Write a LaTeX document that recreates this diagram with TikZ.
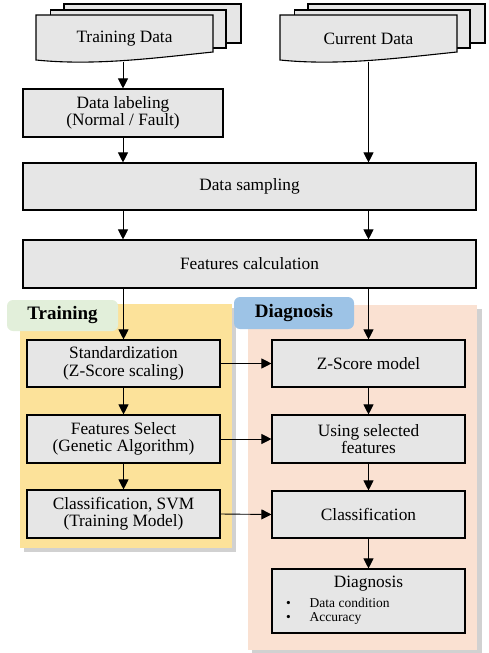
\documentclass[tikz,border=0pt]{standalone}
\usepackage{fontspec}
\setmainfont{Liberation Serif}
\usetikzlibrary{positioning,arrows.meta}
\tikzstyle{flowChart} = [x = 1pt, y = -1pt]
\definecolor{boxGray}{RGB}{230,230,230}
\definecolor{trainPanel}{RGB}{252,226,154}
\definecolor{diagPanel}{RGB}{250,225,210}
\definecolor{trainTagColor}{RGB}{226,239,218}
\definecolor{diagTagColor}{RGB}{157,195,230}
\tikzstyle{stepBox} = [draw, fill=boxGray, line width=1.1pt, align=center, inner sep=0pt, font=\fontsize{17.3}{17.5}\selectfont]
\tikzstyle{docPage} = [draw, fill=boxGray, line width=1.1pt]
\tikzstyle{flowArrow} = [line width=0.9pt, -{Triangle[length=10pt,width=10pt]}]
\tikzstyle{panelTag} = [rounded corners=6pt, inner sep=0pt, font=\bfseries\fontsize{19}{20}\selectfont]
\tikzstyle{panelShadow} = [fill=black, opacity=0.18]
\newcommand{\stepNode}[6]{\node [stepBox, minimum width=#4pt, minimum height=#5pt] (#1) at (#2,#3) {#6};}
\newcommand{\dataStack}[3]{
  \draw [docPage] ({#2-60.5},4) rectangle ({#2+116.5},43);
  \draw [docPage] ({#2-74},10) rectangle ({#2+101.5},48);
  \draw [docPage] ({#2-88.5},15) -- ({#2+88.5},15) -- ({#2+88.5},52)
    .. controls ({#2+30},58) and ({#2-30},66) .. ({#2-88.5},60) -- cycle;
  \node [font=\fontsize{17.3}{17.5}\selectfont, minimum width=177pt, minimum height=47pt, inner sep=0pt] (#1) at (#2,38.5) {#3};
}

\begin{document}
\begin{tikzpicture}[flowChart]
  \useasboundingbox (0,0) rectangle (488,653);

  % panels
  \fill [panelShadow] (24,308) rectangle (236,552);
  \fill [trainPanel] (20,304) rectangle (232,548);
  \fill [panelShadow] (252,309) rectangle (482,653);
  \fill [diagPanel] (248,305) rectangle (477,650);
  \node [panelTag, fill=trainTagColor, minimum width=111pt, minimum height=31pt] (trainTag) at (62.5,315.5) {Training};
  \node [panelTag, fill=diagTagColor, minimum width=120pt, minimum height=32pt] (diagTag) at (294,313) {Diagnosis};

  % inputs
  \dataStack{trainData}{124.5}{Training Data}
  \dataStack{curData}{368.5}{Current Data}

  \stepNode{labeling}{123}{113}{200}{48}{Data labeling\\(Normal / Fault)}
  \stepNode{sampling}{249.5}{186.5}{453}{47}{Data sampling}
  \stepNode{features}{249.5}{264}{453}{48}{Features calculation}

  % training side
  \stepNode{stand}{123.5}{363.5}{193}{47}{Standardization\\(Z-Score scaling)}
  \stepNode{featSel}{123.5}{439}{193}{48}{Features Select\\(Genetic Algorithm)}
  \stepNode{classSvm}{123.5}{514}{193}{48}{Classification, SVM\\(Training Model)}

  % diagnosis side
  \stepNode{zScore}{368.5}{363.5}{193}{47}{Z-Score model}
  \stepNode{usingSel}{368.5}{439}{193}{48}{Using selected\\features}
  \stepNode{classif}{368.5}{514.5}{193}{47}{Classification}
  \node [stepBox, minimum width=193pt, minimum height=64pt] (diagBox) at (368.5,601)
    {\hspace*{60pt}Diagnosis\hspace*{60pt}\\[5pt]
     \makebox[185pt][l]{\fontsize{13.5}{14}\selectfont
     \begin{tabular}{@{\hspace{10pt}}l@{\hspace{19pt}}l@{}}
       \textbullet & Data condition\\
       \textbullet & Accuracy
     \end{tabular}}};

  % connectors
  \draw [flowArrow] (trainData.south -| labeling.north) -- (labeling.north);
  \draw [flowArrow] (labeling.south) -- (labeling.south |- sampling.north);
  \draw [flowArrow] (curData.south) -- (curData.south |- sampling.north);
  \draw [flowArrow] (labeling.south |- sampling.south) -- (labeling.south |- features.north);
  \draw [flowArrow] (curData.south |- sampling.south) -- (curData.south |- features.north);
  \draw [flowArrow] (stand.north |- features.south) -- (stand.north);
  \draw [flowArrow] (zScore.north |- features.south) -- (zScore.north);
  \draw [flowArrow] (stand) -- (featSel);
  \draw [flowArrow] (featSel) -- (classSvm);
  \draw [flowArrow] (zScore) -- (usingSel);
  \draw [flowArrow] (usingSel) -- (classif);
  \draw [flowArrow] (classif) -- (diagBox);
  \draw [flowArrow] (stand.east) -- (zScore.west);
  \draw [flowArrow] (featSel.east) -- (usingSel.west);
  \draw [flowArrow] (classSvm.east) -- (classif.west);
\end{tikzpicture}
\end{document}
